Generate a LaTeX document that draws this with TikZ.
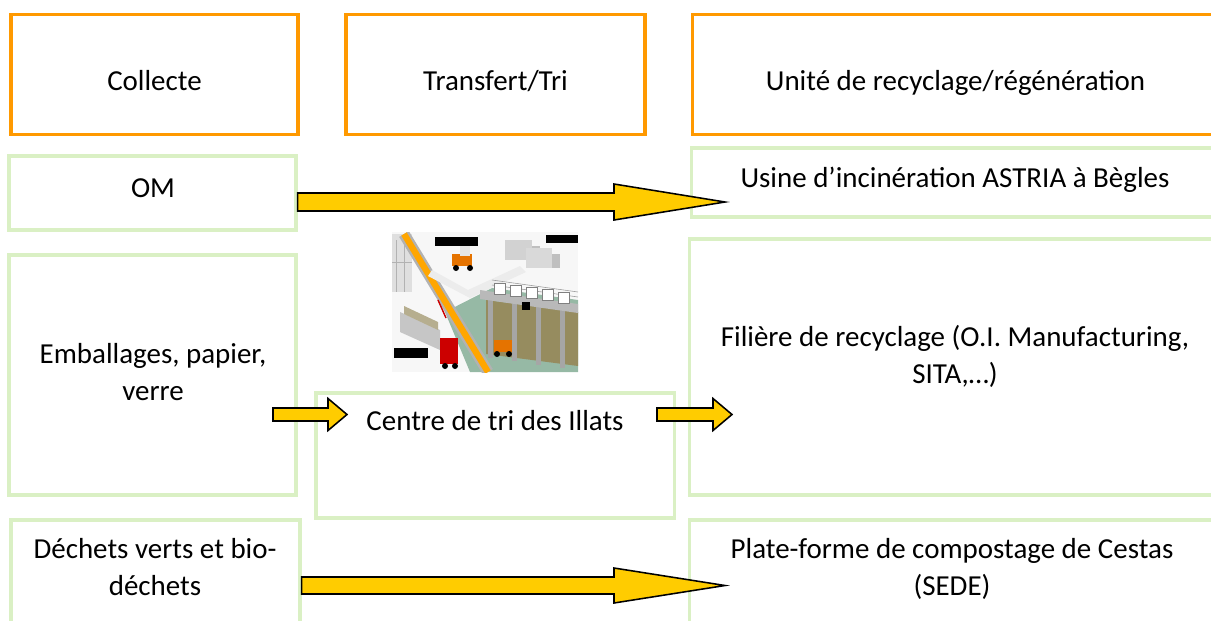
\documentclass[tikz,border=0pt]{standalone}
\usepackage{fontspec}
\setmainfont{Carlito}
\usetikzlibrary{calc}

\definecolor{headorange}{RGB}{255,153,0}
\definecolor{cellgreen}{RGB}{218,240,196}
\definecolor{flowyellow}{RGB}{255,204,0}
\definecolor{floorgreen}{RGB}{150,185,165}
\definecolor{wastebrown}{RGB}{150,140,95}

\begin{document}
\begin{tikzpicture}[
    x=0.025cm, y=-0.025cm,
    head/.style={rectangle, draw=headorange, line width=2.2pt, inner sep=0pt, minimum height=2.99cm},
    cell/.style={rectangle, draw=cellgreen, line width=2.2pt, inner sep=0pt},
    txt/.style={font=\fontsize{20.6}{25.8}\selectfont, align=center, inner sep=0pt},
    flow/.style={fill=flowyellow, draw=black, line width=1.1pt, line join=miter}
]

\clip (0,0) rectangle (1211,620);

% Column headers
\node[head, minimum width=7.175cm] (collecte) at (154.5,74.75) {};
\node[head, minimum width=7.475cm] (transfert) at (495.5,74.75) {};
\node[head, minimum width=13.125cm] (unite) at (955.5,74.75) {};

\node[txt, anchor=base] (collecte-t) at (collecte.center |- 0,90) {Collecte};
\node[txt, anchor=base] (transfert-t) at (transfert.center |- 0,90) {Transfert/Tri};
\node[txt, anchor=base] (unite-t) at (unite.center |- 0,90) {Unité de recyclage/régénération};

% Collection streams (left column)
\node[cell, minimum width=7.175cm, minimum height=1.85cm] (om) at (152.5,193) {};
\node[cell, minimum width=7.175cm, minimum height=6cm] (emb) at (152.5,375) {};
\node[cell, minimum width=7.225cm, minimum height=3cm] (dv) at (155.5,580) {};

% (base of a two-line node is its last line)
\node[txt, anchor=base] (om-t) at (153,197) {OM};
\node[txt, anchor=base] (emb-t) at (153,400) {Emballages, papier,\\verre};
\node[txt, anchor=base] (dv-t) at (155,595) {Déchets verts et bio-\\déchets};

% Sorting centre
\node[cell, minimum width=8.95cm, minimum height=3.125cm] (tri) at (495,455.5) {};
\node[txt, anchor=base] (tri-t) at (495,430) {Centre de tri des Illats};

% Plant picture
\begin{scope}
\clip (392,232) rectangle (578,372);
\fill[gray!6] (392,232) rectangle (578,372);
\fill[floorgreen] (445,312) -- (492,288) -- (578,300) -- (578,372) -- (470,372) -- cycle;
\fill[gray!25] (392,234) rectangle (412,292);
\draw[gray!60] (396,240) -- (396,292) (404,236) -- (404,292) (392,262) -- (412,262);
\draw[gray!60, line width=8pt] (404,234) -- (488,372);
\draw[orange!70!yellow, line width=4.5pt] (404,234) -- (488,372);
\draw[red!80!black, line width=1pt] (438,300) -- (446,318);
\fill[gray!15] (432,270) -- (468,290) -- (520,266) -- (526,272) -- (470,298) -- (428,276) -- cycle;
\fill[orange!90!black] (452,254) rectangle (472,266);
\fill[gray!20] (460,246) rectangle (470,256);
\fill[black] (456,268) circle (3) (470,268) circle (3);
\fill[gray!35] (505,240) rectangle (532,260);
\fill[gray!50] (532,246) rectangle (540,260);
\fill[gray!30] (526,248) rectangle (552,268);
\fill[gray!50] (552,254) rectangle (560,268);
\fill[black] (435,237) rectangle (478,246);
\fill[black] (546,235) rectangle (578,243);
% sorting platform
\fill[wastebrown] (486,300) -- (578,312) -- (578,366) -- (486,354) -- cycle;
\foreach \x in {488,512,536,560}
  \fill[gray!70] (\x,{300+(\x-486)*0.13}) rectangle (\x+5,{358+(\x-486)*0.13});
\fill[gray!55] (480,290) -- (578,304) -- (578,313) -- (480,299) -- cycle;
\draw[gray!80] (492,280) -- (578,292) (492,285) -- (578,297);
\foreach \x in {494,510,526,542,558}
  \filldraw[fill=white, draw=gray] (\x,{283+(\x-494)*0.14}) rectangle (\x+11,{294+(\x-494)*0.14});
\fill[black] (522,302) rectangle (530,310);
% loader on the floor
\fill[orange!90!black] (494,340) rectangle (512,352);
\fill[black] (497,354) circle (3) (509,354) circle (3);
% truck with trailer
\fill[gray!45] (400,312) -- (440,330) -- (440,350) -- (400,332) -- cycle;
\fill[wastebrown!70] (404,306) -- (438,322) -- (438,330) -- (404,314) -- cycle;
\fill[red!80!black] (440,338) rectangle (458,364);
\fill[black] (445,366) circle (3) (455,366) circle (3);
\fill[black] (394,348) rectangle (428,358);
\end{scope}

% Destinations (right column)
\node[cell, minimum width=13.15cm, minimum height=1.725cm] (usine) at (955,182.5) {};
\node[cell, minimum width=13.2cm, minimum height=6.4cm] (filiere) at (954,367) {};
\node[cell, minimum width=13.2cm, minimum height=3cm] (cestas) at (954,580) {};

\node[txt, anchor=base] (usine-t) at (955,187) {Usine d’incinération ASTRIA à Bègles};
\node[txt, anchor=base] (filiere-t) at (955,383) {Filière de recyclage (O.I. Manufacturing,\\SITA,…)};
\node[txt, anchor=base] (cestas-t) at (952,595) {Plate-forme de compostage de Cestas\\(SEDE)};

% Flow arrows
\coordinate (omA) at (om.east |- 0,202);
\coordinate (omB) at (725,202);
\coordinate (embA) at (273,414.5);
\coordinate (embB) at (347,414.5);
\coordinate (triA) at (657,414.5);
\coordinate (triB) at (732,414.5);
\coordinate (dvA) at (dv.east |- 0,585.5);
\coordinate (dvB) at (725,585.5);

\foreach \s/\e/\w/\l/\h in {omA/omB/9/111/18, embA/embB/6.5/19/16, triA/triB/6.5/19/16, dvA/dvB/8.5/111/17.5}
  \draw[flow] ($(\s)+(0,-\w)$) -- ($(\e)+(-\l,-\w)$) -- ($(\e)+(-\l,-\h)$) -- (\e)
    -- ($(\e)+(-\l,\h)$) -- ($(\e)+(-\l,\w)$) -- ($(\s)+(0,\w)$) -- cycle;

\end{tikzpicture}
\end{document}
